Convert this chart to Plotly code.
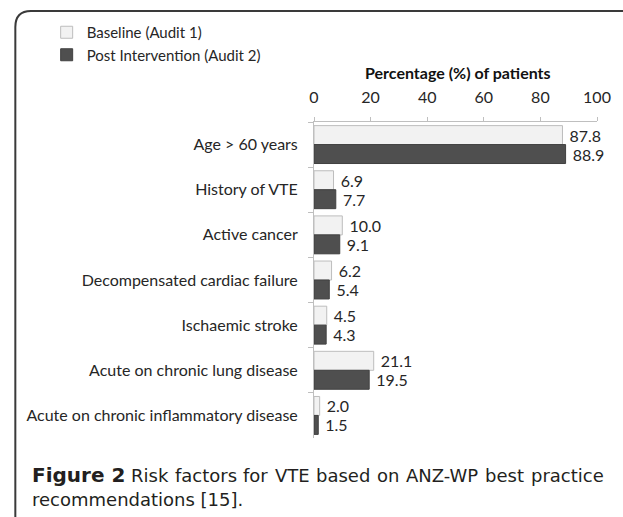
import plotly.graph_objects as go

categories = [
    "Age > 60 years",
    "History of VTE",
    "Active cancer",
    "Decompensated cardiac failure",
    "Ischaemic stroke",
    "Acute on chronic lung disease",
    "Acute on chronic inflammatory disease",
]
baseline = [87.8, 6.9, 10.0, 6.2, 4.5, 21.1, 2.0]
post = [88.9, 7.7, 9.1, 5.4, 4.3, 19.5, 1.5]
series_names = ["Baseline (Audit 1)", "Post Intervention (Audit 2)"]
x_ticks = [0, 20, 40, 60, 80, 100]
axis_title = "Percentage (%) of patients"
caption_words1 = ["<b>Figure 2</b>", "Risk", "factors", "for", "VTE", "based",
                  "on", "ANZ-WP", "best", "practice"]
caption_line2 = "recommendations [15]."

W, H = 623, 517
L, R, T, B = 314, 20, 122, 79
PW, PH = W - L - R, H - T - B

def px(x):
    return (x - L) / PW

def py(y):
    return (H - B - y) / PH

FONT = "Lato"
CAP_FONT = "DejaVu Sans"
TXT = "#262626"
CAP = "#231f20"
ANN_OFF = 7  # annotation text offset (px)

fig = go.Figure()
fig.add_trace(go.Bar(
    y=categories, x=baseline, name=series_names[0], orientation="h",
    marker=dict(color="#f2f2f2", line=dict(color="#bdbdbd", width=1)),
    texttemplate=" %{x:.1f}", textposition="outside",
    textfont=dict(family=FONT, size=16, color=TXT), cliponaxis=False,
))
fig.add_trace(go.Bar(
    y=categories, x=post, name=series_names[1], orientation="h",
    marker=dict(color="#4f4f4f", line=dict(color="#404040", width=1)),
    texttemplate=" %{x:.1f}", textposition="outside",
    textfont=dict(family=FONT, size=16, color=TXT), cliponaxis=False,
))

# rounded border of the figure panel
r = 16
x0, x1, y0, y1 = 9, 640, 11, 540
path = (f"M {px(x1)},{py(y0)} L {px(x0 + r)},{py(y0)} "
        f"Q {px(x0)},{py(y0)} {px(x0)},{py(y0 + r)} "
        f"L {px(x0)},{py(y1 - r)} Q {px(x0)},{py(y1)} {px(x0 + r)},{py(y1)} "
        f"L {px(x1)},{py(y1)}")

# left edges (px) and sizes of the justified caption words
word_x = [33, 134, 179, 249, 281, 323, 385, 415, 496, 543]
word_size = [20, 18, 18, 18, 18, 18, 18, 18, 18, 18]

annotations = [
    dict(text=f"<b>{axis_title}</b>", xref="paper", yref="paper",
         x=px(461), y=py(72), xanchor="center", yanchor="middle",
         showarrow=False, font=dict(family=FONT, size=16, color="#111")),
    dict(text=caption_line2, xref="paper", yref="paper",
         x=px(33 - ANN_OFF), y=py(499), xanchor="left", yanchor="middle",
         showarrow=False, borderpad=0, borderwidth=0,
         font=dict(family=CAP_FONT, size=18, color=CAP)),
]
for w, xw, sz in zip(caption_words1, word_x, word_size):
    annotations.append(dict(
        text=w, xref="paper", yref="paper", x=px(xw - ANN_OFF), y=py(475),
        xanchor="left", yanchor="middle", showarrow=False,
        borderpad=0, borderwidth=0,
        font=dict(family=CAP_FONT, size=sz, color=CAP)))

fig.update_layout(
    width=W, height=H, autosize=False,
    margin=dict(l=L, r=R, t=T, b=B, pad=0),
    paper_bgcolor="white", plot_bgcolor="white",
    barmode="group", bargap=0.16, bargroupgap=0.0,
    font=dict(family=FONT, size=15, color=TXT),
    showlegend=True,
    legend=dict(
        x=px(41), y=py(16), xanchor="left", yanchor="top",
        traceorder="normal", font=dict(family=FONT, size=15, color=TXT),
        bgcolor="rgba(0,0,0,0)", tracegroupgap=0, itemclick=False,
    ),
    xaxis=dict(
        side="top", range=[0, 100], tickvals=x_ticks, ticks="outside",
        ticklen=4, tickcolor="#bfbfbf", showline=True, linecolor="#bfbfbf",
        linewidth=1, showgrid=False, zeroline=False,
        tickfont=dict(family=FONT, size=16, color=TXT), ticklabelstandoff=8,
    ),
    yaxis=dict(
        autorange="reversed", type="category", ticks="outside",
        tickson="boundaries", ticklen=5, tickcolor="#bfbfbf", showline=True,
        linecolor="#bfbfbf", linewidth=1, showgrid=False,
        tickfont=dict(family=FONT, size=16, color=TXT), ticklabelstandoff=12,
    ),
    shapes=[dict(type="path", path=path, xref="paper", yref="paper",
                 line=dict(color="#3a3a3a", width=2), layer="above")],
    annotations=annotations,
)

fig.write_html("out.html", config={"displayModeBar": False},
               post_script="document.body.style.margin='0';")
